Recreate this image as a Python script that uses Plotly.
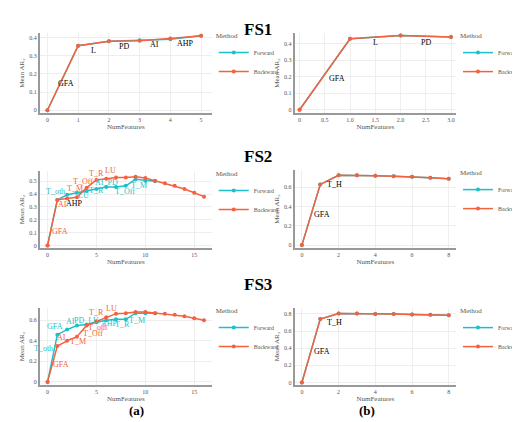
import plotly.graph_objects as go

FWD_COLOR = "#1FBFC8"
BWD_COLOR = "#F5613E"

# FS1 (a)
fs1a_x_f = [0, 1, 2, 3, 4, 5]
fs1a_y_f = [0, 0.355, 0.38, 0.385, 0.39, 0.41]
fs1a_x_b = [0, 1, 2, 3, 4, 5]
fs1a_y_b = [0, 0.355, 0.38, 0.382, 0.395, 0.41]
fs1a_labels = [("GFA", 0.6, 0.15, "black"), ("L", 1.5, 0.33, "black"), ("PD", 2.5, 0.35, "black"),
               ("AI", 3.5, 0.36, "black"), ("AHP", 4.5, 0.37, "black")]
# FS1 (b)
fs1b_x = [0, 1, 2, 3]
fs1b_y = [0, 0.43, 0.45, 0.44]
fs1b_labels = [("GFA", 0.75, 0.19, "black"), ("L", 1.5, 0.41, "black"), ("PD", 2.5, 0.41, "black")]
# FS2 (a)
fs2a_x_f = list(range(12))
fs2a_y_f = [0, 0.355, 0.395, 0.41, 0.425, 0.44, 0.455, 0.455, 0.465, 0.515, 0.505, 0.50]
fs2a_x_b = list(range(17))
fs2a_y_b = [0, 0.355, 0.365, 0.375, 0.45, 0.51, 0.52, 0.53, 0.53, 0.535, 0.525, 0.505, 0.485, 0.465, 0.44, 0.41, 0.38]
fs2a_labels = [("GFA", 1.3, 0.105, "bwd"), ("AI", 1.5, 0.32, "bwd"), ("AHP", 2.8, 0.33, "black"),
               ("T_oth", 0.8, 0.42, "fwd"), ("T_M", 2.85, 0.445, "bwd"), ("T_Off", 3.6, 0.50, "bwd"),
               ("LU", 3.7, 0.39, "fwd"), ("T_R", 5.0, 0.425, "fwd"), ("AI_PD", 6.0, 0.49, "fwd"),
               ("T_R", 5.0, 0.56, "bwd"), ("LU", 6.4, 0.58, "bwd"), ("T_Off", 7.9, 0.42, "fwd"),
               ("T_M", 9.3, 0.47, "fwd")]
# FS2 (b)
fs2b_x = list(range(9))
fs2b_y = [0, 0.63, 0.725, 0.725, 0.72, 0.715, 0.71, 0.70, 0.69]
fs2b_labels = [("T_H", 1.75, 0.63, "black"), ("GFA", 1.07, 0.32, "black")]
# FS3 (a)
fs3a_x_f = list(range(12))
fs3a_y_f = [0, 0.46, 0.51, 0.55, 0.56, 0.58, 0.60, 0.61, 0.61, 0.67, 0.67, 0.67]
fs3a_x_b = list(range(17))
fs3a_y_b = [0, 0.35, 0.40, 0.44, 0.55, 0.59, 0.63, 0.665, 0.67, 0.68, 0.68, 0.67, 0.665, 0.655, 0.64, 0.62, 0.60]
fs3a_labels = [("GFA", 0.8, 0.54, "fwd"), ("AI", 2.3, 0.59, "fwd"), ("PD_LU", 4.0, 0.60, "fwd"),
               ("AHP", 6.3, 0.57, "fwd"), ("T_R", 7.7, 0.56, "fwd"), ("T_M", 9.1, 0.60, "fwd"),
               ("GFA", 1.4, 0.17, "bwd"), ("AI", 1.4, 0.43, "bwd"), ("T_oth", -0.4, 0.33, "fwd"),
               ("T_M", 3.1, 0.39, "bwd"), ("T_Off", 4.6, 0.47, "bwd"), ("T_oth", 5.1, 0.53, "bwd"),
               ("T_R", 5.0, 0.68, "bwd"), ("LU", 6.5, 0.72, "bwd"), ("EC", 8.5, 0.74, "bwd")]
# FS3 (b)
fs3b_x = list(range(9))
fs3b_y = [0, 0.74, 0.805, 0.805, 0.80, 0.80, 0.795, 0.79, 0.785]
fs3b_labels = [("T_M", 2.5, 0.88, "black"), ("T_H", 1.75, 0.70, "black"), ("GFA", 1.07, 0.36, "black")]

panels = [
    dict(xf=fs1a_x_f, yf=fs1a_y_f, xb=fs1a_x_b, yb=fs1a_y_b, lab=fs1a_labels, xr=[-0.25, 5.35], yr=[-0.015, 0.425], dt=0.1, xt=1, top=25, bot=105, left=33, right=212),
    dict(xf=fs1b_x, yf=fs1b_y, xb=fs1b_x, yb=fs1b_y, lab=fs1b_labels, xr=[-0.1, 3.1], yr=[-0.02, 0.465], dt=0.1, xt=0.5, top=25, bot=105, left=298, right=466),
    dict(xf=fs2a_x_f, yf=fs2a_y_f, xb=fs2a_x_b, yb=fs2a_y_b, lab=fs2a_labels, xr=[-0.8, 16.8], yr=[-0.02, 0.58], dt=0.1, xt=5, top=163, bot=240, left=33, right=212),
    dict(xf=fs2b_x, yf=fs2b_y, xb=fs2b_x, yb=fs2b_y, lab=fs2b_labels, xr=[-0.4, 8.4], yr=[-0.03, 0.78], dt=0.2, xt=2, top=162, bot=240, left=298, right=466),
    dict(xf=fs3a_x_f, yf=fs3a_y_f, xb=fs3a_x_b, yb=fs3a_y_b, lab=fs3a_labels, xr=[-0.8, 16.8], yr=[-0.03, 0.72], dt=0.2, xt=5, top=300, bot=377, left=33, right=212),
    dict(xf=fs3b_x, yf=fs3b_y, xb=fs3b_x, yb=fs3b_y, lab=fs3b_labels, xr=[-0.4, 8.4], yr=[-0.03, 0.87], dt=0.2, xt=2, top=300, bot=377, left=298, right=466),
]

W, H = 520, 422
fig = go.Figure()
font = "Liberation Serif, serif"
layout = dict(width=W, height=H, margin=dict(l=0, r=0, t=0, b=0), paper_bgcolor="white",
              plot_bgcolor="white", font=dict(family=font, size=6, color="#555"), annotations=[])

def fmt(v, dt):
    if abs(v) < 1e-9:
        return "0"
    return ("%.1f" % v) if dt < 1 else str(v)

for i, p in enumerate(panels, start=1):
    sx = "" if i == 1 else str(i)
    xa, ya = "x" + sx, "y" + sx
    lg = "legend" + ("" if i == 1 else str(i))
    fig.add_trace(go.Scatter(x=p["xf"], y=p["yf"], mode="lines+markers", name="Forward",
                             line=dict(color=FWD_COLOR, width=1.5), marker=dict(size=4),
                             xaxis=xa, yaxis=ya, legend=lg))
    fig.add_trace(go.Scatter(x=p["xb"], y=p["yb"], mode="lines+markers", name="Backward",
                             line=dict(color=BWD_COLOR, width=1.5), marker=dict(size=4),
                             xaxis=xa, yaxis=ya, legend=lg))
    xd = [p["left"] / W, p["right"] / W]
    yd = [1 - p["bot"] / H, 1 - p["top"] / H]
    xt = p["xt"]
    xv = []
    v = 0
    while v <= p["xr"][1] + 1e-9:
        xv.append(v); v = round(v + xt, 6)
    yv = []
    v = 0
    while v <= p["yr"][1] + 1e-9:
        yv.append(v); v = round(v + p["dt"], 6)
    layout["xaxis" + sx] = dict(domain=xd, range=p["xr"], anchor=ya, tickvals=xv,
                                ticktext=[fmt(t, xt) for t in xv], showline=True, linecolor="#999",
                                linewidth=1.5, gridcolor="#eee", zeroline=False, ticks="",
                                title=dict(text="NumFeatures", font=dict(size=7, color="#555"), standoff=2))
    layout["yaxis" + sx] = dict(domain=yd, range=p["yr"], anchor=xa, tickvals=yv,
                                ticktext=[fmt(t, 0.1) for t in yv], showline=True, linecolor="#999",
                                linewidth=1.5, gridcolor="#eee", zeroline=False, ticks="",
                                title=dict(text="Mean AR\u2082", font=dict(size=7, color="#555"), standoff=4))
    layout[lg] = dict(x=(p["right"] + 2) / W, y=1 - (p["top"] - 4) / H, xanchor="left", yanchor="top",
                      title=dict(text="Method", font=dict(size=7, color="#555")),
                      font=dict(size=6, color="#555"), bgcolor="rgba(0,0,0,0)",
                      itemwidth=30, tracegroupgap=0)
    for txt, lx, ly, c in p["lab"]:
        col = {"fwd": FWD_COLOR, "bwd": BWD_COLOR}.get(c, "black")
        layout["annotations"].append(dict(x=lx, y=ly, xref=xa, yref=ya, text=txt, showarrow=False,
                                          font=dict(size=8, color=col, family=font)))

for txt, yp in [("FS1", 10), ("FS2", 148), ("FS3", 288)]:
    layout["annotations"].append(dict(x=0.5, y=1 - yp / H, xref="paper", yref="paper", text="<b>%s</b>" % txt,
                                      showarrow=False, font=dict(size=17, color="black", family=font)))
for txt, xp in [("(a)", 124), ("(b)", 384)]:
    layout["annotations"].append(dict(x=xp / W, y=1 - 412 / H, xref="paper", yref="paper", text="<b>%s</b>" % txt,
                                      showarrow=False, font=dict(size=13, color="black", family=font)))

fig.update_layout(**layout)
fig.write_html("out.html")
